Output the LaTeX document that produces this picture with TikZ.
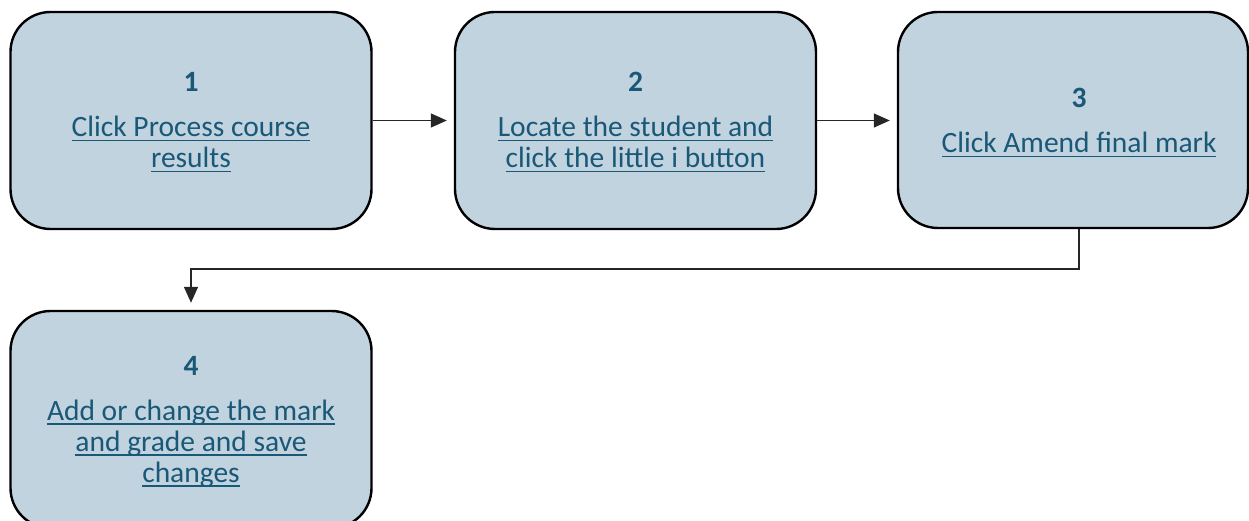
\documentclass[tikz,border=0pt]{standalone}
\usepackage{fontspec}
\setmainfont{Carlito}
\usetikzlibrary{arrows.meta}
\definecolor{boxfill}{HTML}{C2D3E0}
\definecolor{txt}{HTML}{195876}
\newsavebox{\myulbox}
\newcommand{\ul}[1]{\sbox{\myulbox}{#1}\rlap{\rule[-4.5pt]{\wd\myulbox}{1.6pt}}\usebox{\myulbox}}
\tikzset{
  stepbox/.style={draw=black, line width=2.4pt, fill=boxfill, rounded corners=40pt,
    minimum width=361pt, minimum height=217pt, inner sep=0pt},
  lbl/.style={text=txt, align=center, font=\fontsize{29.5}{31}\selectfont, inner sep=0pt},
  conn/.style={draw=black!85, line width=1.4pt, -{Triangle[length=16pt,width=14pt]}, shorten >=7pt}
}
\begin{document}
\begin{tikzpicture}[x=1pt,y=-1pt]
\useasboundingbox (0,0) rectangle (1249,521);
\node[stepbox] (b1) at (191,120.5) {};
\node[stepbox] (b2) at (635.5,120.5) {};
\node[stepbox, minimum width=350pt, minimum height=216pt] (b3) at (1073,120) {};
\node[stepbox] (b4) at (191,419.5) {};
\node[lbl] (t1) at (191,122.5) {\textbf{1}\\[14pt]\ul{Click Process course}\\\ul{results}};
\node[lbl] (t2) at (635.5,122.5) {\textbf{2}\\[14pt]\ul{Locate the student and}\\\ul{click the little i button}};
\node[lbl] (t3) at (1079,123) {\textbf{3}\\[14pt]\ul{Click Amend final mark}};
\node[lbl] (t4) at (191,421.5) {\textbf{4}\\[14pt]\ul{Add or change the mark}\\\ul{and grade and save}\\\ul{changes}};
\coordinate (c1) at (1079,269);
\coordinate (c2) at (191,269);
\draw[conn] (b1.east) -- (b2.west);
\draw[conn] (b2.east) -- (b2.east -| b3.west);
\draw[conn] (c1 |- b3.south) -- (c1) -- (c2) -- (b4.north);
\end{tikzpicture}
\end{document}
